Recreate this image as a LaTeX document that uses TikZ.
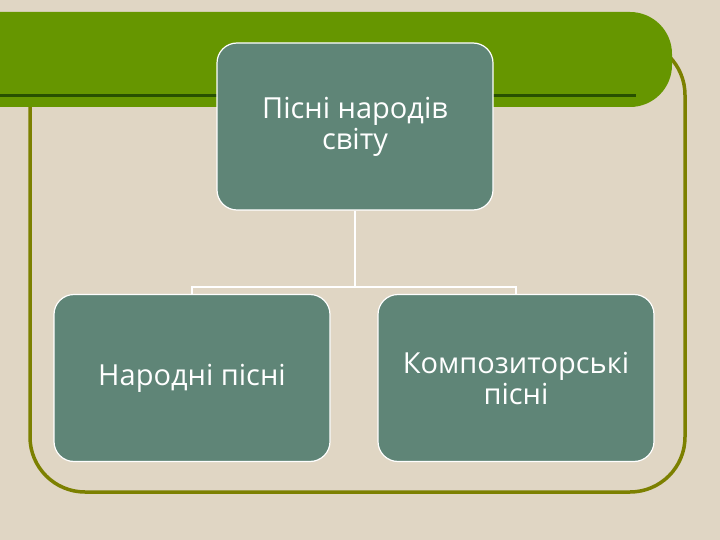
\documentclass[tikz,border=0pt]{standalone}
\usepackage{fontspec}
\setmainfont{Open Sans}
\definecolor{bgc}{RGB}{224,214,196}
\definecolor{barg}{RGB}{102,150,0}
\definecolor{darkg}{RGB}{40,80,0}
\definecolor{frameol}{RGB}{124,128,0}
\definecolor{boxc}{RGB}{95,133,119}
\tikzset{
  box/.style={draw=white, line width=1.2pt, fill=boxc, rounded corners=20pt,
    minimum width=276pt, minimum height=167pt, inner sep=0pt, align=center,
    text=white, font=\fontsize{29}{31}\selectfont},
  conn/.style={draw=white, line width=1.5pt}
}
\begin{document}
\begin{tikzpicture}[x=1pt,y=1pt]
\useasboundingbox (0,0) rectangle (720,-540);
\fill[bgc] (0,0) rectangle (720,-540);
% frame
\draw[frameol, line width=3.5pt, rounded corners=55pt] (30,-40) rectangle (685,-492);
% green bar
\fill[barg] (0,-12) -- (630,-12) arc[start angle=90,end angle=0,radius=42] -- (672,-65) arc[start angle=0,end angle=-90,radius=42] -- (0,-107) -- cycle;
\draw[darkg, line width=3pt] (0,-96) -- (636,-96);
% boxes
\node[box] (top) at (355,-126.5) {Пісні народів\\світу};
\node[box] (left) at (192,-378) {Народні пісні};
\node[box] (right) at (516,-378) {Композиторські\\пісні};
% connectors
\coordinate (j) at (355,-287);
\draw[conn] (top.south) -- (j) -| (left.north);
\draw[conn] (j) -| (right.north);
\end{tikzpicture}
\end{document}
